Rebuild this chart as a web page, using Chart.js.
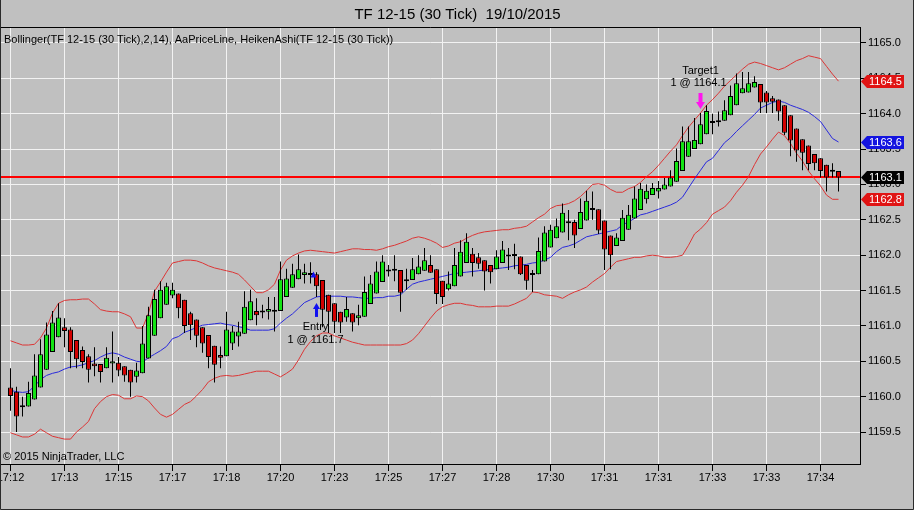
<!DOCTYPE html>
<html><head><meta charset="utf-8">
<script src="https://cdn.jsdelivr.net/npm/chart.js@4/dist/chart.umd.min.js"></script>
<style>html,body{margin:0;padding:0;background:#c0c0c0;overflow:hidden}canvas{display:block}</style>
</head><body>
<canvas id="c" width="914" height="510"></canvas>
<script>
const titleText = 'TF 12-15 (30 Tick)  19/10/2015';
const indicatorText = 'Bollinger(TF 12-15 (30 Tick),2,14), AaPriceLine, HeikenAshi(TF 12-15 (30 Tick))';
const copyrightText = '\u00A9 2015 NinjaTrader, LLC';

const opens = [1160.13,1160.07,1159.88,1159.86,1159.96,1160.13,1160.38,1160.63,1160.84,1160.98,
1160.95,1160.80,1160.66,1160.57,1160.47,1160.46,1160.40,1160.47,1160.48,1160.43,
1160.38,1160.28,1160.33,1160.54,1160.86,1161.11,1161.30,1161.43,1161.46,1161.37,
1161.18,1161.09,1160.98,1160.87,1160.72,1160.59,1160.57,1160.75,1160.85,1160.89,
1161.08,1161.21,1161.19,1161.20,1161.20,1161.21,1161.41,1161.54,1161.66,1161.72,
1161.74,1161.73,1161.65,1161.44,1161.32,1161.20,1161.12,1161.18,1161.11,1161.13,
1161.31,1161.46,1161.62,1161.77,1161.78,1161.79,1161.63,1161.65,1161.73,1161.78,
1161.86,1161.80,1161.64,1161.52,1161.56,1161.70,1161.89,1162.02,1161.97,1161.93,
1161.86,1161.80,1161.89,1161.98,1161.99,1161.98,1161.86,1161.72,1161.73,1161.91,
1162.11,1162.24,1162.32,1162.45,1162.47,1162.37,1162.49,1162.64,1162.65,1162.49,
1162.28,1162.13,1162.20,1162.36,1162.52,1162.64,1162.79,1162.85,1162.90,1162.93,
1162.97,1163.04,1163.19,1163.39,1163.50,1163.57,1163.71,1163.87,1163.88,1163.90,
1163.98,1164.12,1164.29,1164.30,1164.37,1164.42,1164.30,1164.22,1164.20,1164.12,
1163.98,1163.79,1163.64,1163.55,1163.43,1163.37,1163.28,1163.19,1163.19];

const highs = [1160.40,1160.14,1160.00,1160.21,1160.60,1160.81,1161.05,1161.21,1161.32,1161.11,
1160.98,1160.80,1160.71,1160.60,1160.70,1160.46,1160.70,1160.92,1160.56,1160.43,
1160.38,1160.48,1161.00,1161.27,1161.51,1161.63,1161.61,1161.61,1161.46,1161.37,
1161.20,1161.09,1160.98,1160.87,1160.72,1160.71,1161.20,1161.00,1161.06,1161.49,
1161.51,1161.39,1161.30,1161.41,1161.41,1161.91,1161.81,1161.88,1162.01,1161.88,
1161.90,1161.76,1161.65,1161.44,1161.32,1161.20,1161.41,1161.18,1161.30,1161.70,
1161.72,1161.91,1162.00,1161.86,1162.00,1161.79,1161.81,1161.96,1162.00,1162.10,
1162.00,1161.80,1161.64,1161.77,1162.10,1162.21,1162.31,1162.10,1162.03,1161.93,
1161.86,1162.07,1162.20,1162.10,1162.16,1161.98,1161.86,1161.79,1162.25,1162.41,
1162.43,1162.52,1162.73,1162.64,1162.50,1162.80,1162.91,1162.90,1162.65,1162.49,
1162.28,1162.31,1162.64,1162.71,1162.97,1163.02,1163.00,1163.02,1163.05,1163.09,
1163.20,1163.51,1163.82,1163.82,1163.94,1164.01,1164.12,1164.00,1164.03,1164.19,
1164.40,1164.57,1164.59,1164.59,1164.53,1164.42,1164.32,1164.25,1164.20,1164.12,
1163.98,1163.79,1163.64,1163.55,1163.43,1163.37,1163.28,1163.30,1163.19];

const lows = [1159.80,1159.50,1159.72,1159.86,1159.96,1160.13,1160.38,1160.63,1160.84,1160.70,
1160.40,1160.40,1160.40,1160.20,1160.29,1160.20,1160.40,1160.20,1160.29,1160.21,
1160.00,1160.20,1160.33,1160.54,1160.86,1161.11,1161.30,1161.39,1161.11,1160.90,
1160.80,1160.70,1160.62,1160.40,1160.20,1160.40,1160.57,1160.66,1160.71,1160.89,
1161.08,1161.01,1161.11,1161.09,1160.92,1161.21,1161.41,1161.54,1161.66,1161.60,
1161.60,1161.41,1160.98,1160.90,1160.90,1160.90,1161.06,1160.92,1161.01,1161.13,
1161.31,1161.46,1161.62,1161.70,1161.63,1161.20,1161.51,1161.65,1161.73,1161.78,
1161.75,1161.31,1161.31,1161.50,1161.56,1161.70,1161.89,1161.70,1161.81,1161.50,
1161.60,1161.80,1161.89,1161.79,1161.80,1161.72,1161.51,1161.48,1161.73,1161.91,
1162.11,1162.24,1162.32,1162.21,1162.10,1162.37,1162.49,1162.50,1162.30,1161.79,
1161.80,1162.13,1162.20,1162.36,1162.52,1162.64,1162.73,1162.85,1162.80,1162.93,
1162.97,1163.04,1163.19,1163.39,1163.50,1163.57,1163.71,1163.71,1163.82,1163.90,
1163.98,1164.12,1164.29,1164.30,1164.37,1164.01,1164.01,1164.01,1163.90,1163.70,
1163.40,1163.32,1163.20,1163.20,1163.20,1163.10,1162.90,1163.10,1162.90];

const closes = [1160.01,1159.72,1159.85,1160.05,1160.30,1160.60,1160.88,1161.05,1161.12,1160.93,
1160.63,1160.53,1160.49,1160.38,1160.43,1160.35,1160.55,1160.50,1160.37,1160.30,
1160.20,1160.37,1160.75,1161.15,1161.38,1161.51,1161.56,1161.51,1161.25,1161.00,
1161.01,1160.86,1160.75,1160.56,1160.45,1160.55,1160.95,1160.92,1160.92,1161.27,
1161.35,1161.15,1161.21,1161.24,1161.22,1161.66,1161.67,1161.73,1161.80,1161.76,
1161.72,1161.56,1161.23,1161.20,1161.06,1161.05,1161.24,1161.05,1161.15,1161.48,
1161.60,1161.77,1161.91,1161.78,1161.80,1161.47,1161.66,1161.80,1161.84,1161.93,
1161.75,1161.45,1161.41,1161.60,1161.86,1162.05,1162.19,1161.89,1161.88,1161.77,
1161.76,1161.98,1162.08,1162.00,1162.00,1161.73,1161.64,1161.74,1162.06,1162.32,
1162.36,1162.41,1162.60,1162.47,1162.28,1162.61,1162.77,1162.66,1162.35,1162.08,
1162.00,1162.25,1162.53,1162.57,1162.80,1162.94,1162.91,1162.95,1162.95,1163.00,
1163.10,1163.33,1163.61,1163.61,1163.63,1163.85,1164.04,1163.88,1163.90,1164.05,
1164.25,1164.43,1164.36,1164.43,1164.45,1164.16,1164.16,1164.17,1164.03,1163.73,
1163.62,1163.48,1163.45,1163.29,1163.30,1163.19,1163.10,1163.18,1163.10];

const bbUpper = [1160.79,1160.76,1160.73,1160.73,1160.74,1160.83,1160.97,1161.18,1161.32,1161.36,
1161.37,1161.37,1161.38,1161.38,1161.31,1161.23,1161.21,1161.20,1161.20,1161.17,
1161.13,1160.97,1160.97,1161.18,1161.49,1161.62,1161.76,1161.89,1161.91,1161.93,
1161.93,1161.92,1161.89,1161.85,1161.82,1161.80,1161.78,1161.76,1161.73,1161.65,
1161.56,1161.47,1161.47,1161.51,1161.59,1161.79,1161.93,1161.99,1162.03,1162.06,
1162.07,1162.06,1162.05,1162.04,1162.03,1162.05,1162.07,1162.09,1162.09,1162.08,
1162.08,1162.07,1162.09,1162.12,1162.14,1162.17,1162.20,1162.24,1162.26,1162.24,
1162.21,1162.17,1162.11,1162.13,1162.17,1162.19,1162.24,1162.28,1162.31,1162.33,
1162.34,1162.35,1162.36,1162.36,1162.38,1162.39,1162.41,1162.47,1162.53,1162.58,
1162.66,1162.70,1162.71,1162.73,1162.77,1162.83,1162.91,1163.00,1163.01,1162.99,
1162.93,1162.89,1162.89,1162.94,1162.97,1163.03,1163.11,1163.18,1163.27,1163.37,
1163.47,1163.56,1163.69,1163.81,1163.91,1164.01,1164.12,1164.20,1164.29,1164.39,
1164.47,1164.55,1164.63,1164.70,1164.73,1164.71,1164.68,1164.65,1164.62,1164.65,
1164.70,1164.75,1164.78,1164.82,1164.80,1164.78,1164.67,1164.56,1164.46];

const bbMiddle = [1160.09,1160.07,1160.06,1160.07,1160.15,1160.24,1160.30,1160.33,1160.35,1160.39,
1160.42,1160.43,1160.45,1160.48,1160.51,1160.56,1160.60,1160.62,1160.60,1160.56,
1160.53,1160.50,1160.49,1160.55,1160.60,1160.65,1160.71,1160.82,1160.85,1160.91,
1160.94,1160.98,1161.01,1161.02,1161.03,1161.04,1161.02,1161.01,1160.99,1160.97,
1160.94,1160.94,1160.94,1160.94,1160.96,1161.04,1161.11,1161.17,1161.25,1161.33,
1161.37,1161.41,1161.42,1161.42,1161.42,1161.42,1161.41,1161.41,1161.40,1161.39,
1161.39,1161.40,1161.40,1161.42,1161.42,1161.44,1161.52,1161.59,1161.62,1161.64,
1161.66,1161.68,1161.70,1161.72,1161.74,1161.75,1161.76,1161.77,1161.78,1161.79,
1161.80,1161.81,1161.82,1161.83,1161.85,1161.86,1161.87,1161.89,1161.90,1161.93,
1161.97,1162.05,1162.11,1162.13,1162.16,1162.21,1162.26,1162.28,1162.30,1162.32,
1162.34,1162.36,1162.43,1162.47,1162.52,1162.57,1162.59,1162.62,1162.65,1162.68,
1162.71,1162.75,1162.82,1162.95,1163.08,1163.20,1163.32,1163.37,1163.48,1163.59,
1163.66,1163.75,1163.83,1163.91,1163.99,1164.08,1164.12,1164.16,1164.18,1164.16,
1164.12,1164.09,1164.06,1164.02,1163.96,1163.89,1163.77,1163.65,1163.60];

const bbLower = [1159.49,1159.46,1159.43,1159.43,1159.47,1159.54,1159.49,1159.44,1159.42,1159.40,
1159.40,1159.50,1159.57,1159.65,1159.83,1159.93,1160.00,1160.03,1160.02,1159.97,
1159.97,1160.01,1160.00,1159.94,1159.84,1159.75,1159.71,1159.75,1159.82,1159.89,
1159.93,1160.01,1160.10,1160.21,1160.26,1160.29,1160.30,1160.29,1160.30,1160.32,
1160.34,1160.36,1160.36,1160.36,1160.32,1160.28,1160.33,1160.39,1160.52,1160.67,
1160.78,1160.86,1160.90,1160.90,1160.86,1160.83,1160.80,1160.77,1160.75,1160.73,
1160.73,1160.73,1160.73,1160.73,1160.73,1160.73,1160.75,1160.80,1160.89,1161.00,
1161.11,1161.21,1161.27,1161.30,1161.32,1161.32,1161.30,1161.29,1161.27,1161.27,
1161.27,1161.28,1161.28,1161.28,1161.31,1161.35,1161.39,1161.48,1161.47,1161.44,
1161.43,1161.42,1161.39,1161.44,1161.48,1161.51,1161.55,1161.62,1161.68,1161.74,
1161.83,1161.91,1161.93,1161.95,1161.97,1161.97,1161.99,1162.00,1161.99,1161.97,
1161.97,1161.98,1162.00,1162.14,1162.30,1162.37,1162.46,1162.58,1162.63,1162.68,
1162.77,1162.89,1162.99,1163.11,1163.28,1163.43,1163.53,1163.64,1163.74,1163.69,
1163.58,1163.44,1163.33,1163.19,1163.08,1162.98,1162.85,1162.79,1162.79];

const timeTickIndex = [0,9,18,27,36,45,54,63,72,81,90,99,108,117,126,135];
const timeLabels = ['17:12','17:13','17:15','17:17','17:18','17:20','17:23','17:25','17:27','17:28','17:30','17:31','17:31','17:33','17:33','17:34'];
const priceTicks = [1159.5,1160.0,1160.5,1161.0,1161.5,1162.0,1162.5,1163.0,1163.5,1164.0,1164.5,1165.0];

const entryIndex = 51, entryPrice = 1161.7, entryName = 'Entry';
const targetIndex = 115, targetPrice = 1164.1, targetName = 'Target1';

const GREEN = '#14e314', RED = '#d20000', BAND_RED = '#dc3535', BAND_BLUE = '#2828dc';
const FONT = '"Liberation Sans", Arial, Helvetica, sans-serif';
const last = closes.length - 1;

const idx = opens.map((_, i) => i);
const fmt = v => (Math.round(v * 10) / 10).toFixed(1);

const decor = {
  id: 'decor',
  beforeDatasetsDraw(chart) {
    const {ctx, chartArea: a, scales: {y}} = chart;
    const py = Math.round(y.getPixelForValue(closes[last]));
    ctx.save();
    ctx.fillStyle = '#ff0000';
    ctx.fillRect(a.left, py - 1, a.right - a.left, 2);
    ctx.restore();
  },
  afterDraw(chart) {
    const {ctx, chartArea: a, scales: {x, y}} = chart;
    ctx.save();
    // plot frame
    ctx.strokeStyle = '#000'; ctx.lineWidth = 1;
    ctx.beginPath();
    ctx.moveTo(0, a.top + 0.5); ctx.lineTo(a.right + 0.5, a.top + 0.5);
    ctx.lineTo(a.right + 0.5, a.bottom + 0.5); ctx.lineTo(0, a.bottom + 0.5);
    ctx.stroke();
    // window border
    ctx.strokeStyle = '#2a2a2a';
    ctx.beginPath(); ctx.moveTo(0.5, 0); ctx.lineTo(0.5, 509.5); ctx.lineTo(913.5, 509.5); ctx.lineTo(913.5, 0); ctx.stroke();
    // texts
    ctx.fillStyle = '#000'; ctx.font = '11px ' + FONT; ctx.textBaseline = 'middle'; ctx.textAlign = 'left';
    ctx.fillText(indicatorText, 4, a.top + 13);
    ctx.fillText(copyrightText, 3, a.bottom - 7);

    // entry marker
    const ex = x.getPixelForValue(entryIndex);
    const eTop = y.getPixelForValue(lows[entryIndex]) + 6;
    ctx.fillStyle = '#1010f0';
    ctx.beginPath(); ctx.moveTo(ex, eTop); ctx.lineTo(ex - 3.5, eTop + 6); ctx.lineTo(ex + 3.5, eTop + 6); ctx.closePath(); ctx.fill();
    ctx.fillRect(ex - 1.5, eTop + 5, 3, 9);
    const epy = y.getPixelForValue(entryPrice);
    ctx.beginPath(); ctx.moveTo(ex - 3, epy - 5); ctx.lineTo(ex - 6, epy + 1); ctx.lineTo(ex, epy + 1); ctx.closePath(); ctx.fill();
    ctx.fillStyle = '#000'; ctx.textAlign = 'center';
    ctx.fillText(entryName, ex - 1, eTop + 24);
    ctx.fillText('1 @ ' + entryPrice.toFixed(1), ex - 1, eTop + 37);

    // target marker
    const tx = x.getPixelForValue(targetIndex);
    const tTip = y.getPixelForValue(highs[targetIndex]) - 4;
    ctx.fillStyle = '#ff14ee';
    ctx.beginPath(); ctx.moveTo(tx, tTip); ctx.lineTo(tx - 4.5, tTip - 7); ctx.lineTo(tx + 4.5, tTip - 7); ctx.closePath(); ctx.fill();
    ctx.fillRect(tx - 2, tTip - 16, 4, 10);
    ctx.fillStyle = '#000';
    ctx.fillText('1 @ ' + targetPrice.toFixed(1), tx - 2, tTip - 26);
    ctx.fillText(targetName, tx, tTip - 38);

    // right side value tags
    const tags = [
      {v: bbUpper[last], c: '#e01414'},
      {v: bbMiddle[last], c: '#1414e0'},
      {v: closes[last], c: '#000000'},
      {v: bbLower[last], c: '#e01414'}
    ];
    ctx.textAlign = 'left';
    tags.forEach(t => {
      const ty = Math.round(y.getPixelForValue(t.v)) + 0.5;
      ctx.fillStyle = t.c;
      ctx.beginPath();
      ctx.moveTo(861, ty); ctx.lineTo(867, ty - 6.5); ctx.lineTo(904, ty - 6.5);
      ctx.lineTo(904, ty + 6.5); ctx.lineTo(867, ty + 6.5); ctx.closePath(); ctx.fill();
      ctx.fillStyle = '#fff';
      ctx.fillText(fmt(t.v), 869, ty + 0.5);
    });
    ctx.restore();
  }
};

const lineDs = (data, color) => ({
  type: 'line',
  data: data.map((v, i) => ({x: i, y: v})),
  borderColor: color, borderWidth: 1, pointRadius: 0, tension: 0, fill: false, order: 5
});

new Chart(document.getElementById('c'), {
  type: 'bar',
  data: {
    datasets: [
      lineDs(bbUpper, BAND_RED),
      lineDs(bbLower, BAND_RED),
      lineDs(bbMiddle, BAND_BLUE),
      {
        type: 'bar',
        data: idx.map(i => ({x: i, y: [lows[i], highs[i]]})),
        backgroundColor: '#000', borderWidth: 0, barThickness: 1, grouped: false,
        inflateAmount: 0, order: 2
      },
      {
        type: 'bar',
        data: idx.map(i => ({x: i, y: [opens[i], closes[i]]})),
        backgroundColor: idx.map(i => closes[i] >= opens[i] ? GREEN : RED),
        borderColor: '#000', borderWidth: 1, borderSkipped: false, barThickness: 5,
        grouped: false, minBarLength: 2, inflateAmount: 0, order: 1
      }
    ]
  },
  options: {
    responsive: false, animation: false, devicePixelRatio: 1,
    layout: {padding: {left: 1, right: 0, top: 0, bottom: 0}},
    font: {family: FONT},
    plugins: {
      legend: {display: false}, tooltip: {enabled: false},
      title: {display: true, text: titleText, color: '#000',
        font: {size: 15, weight: 'normal', family: FONT, lineHeight: 1.2}, padding: {top: 6, bottom: 3}}
    },
    scales: {
      x: {
        type: 'linear', min: -1.5833, max: 141.5833, offset: false, bounds: 'data',
        afterBuildTicks(s) { s.ticks = timeTickIndex.map(v => ({value: v})); },
        afterFit(s) { s.height = 46; s.paddingLeft = 0; s.paddingRight = 0; },
        ticks: {autoSkip: false, maxRotation: 0, minRotation: 0, padding: 0, color: '#000',
          font: {size: 11, family: FONT}, callback: (v, i) => timeLabels[i]},
        grid: {offset: false, color: '#f2f2f2', tickColor: '#000', tickLength: 7},
        border: {display: true, color: '#000'}
      },
      y: {
        position: 'right', min: 1159.048, max: 1165.226, bounds: 'data',
        afterBuildTicks(s) { s.ticks = priceTicks.map(v => ({value: v})); },
        afterFit(s) { s.width = 54; s.paddingTop = 0; s.paddingBottom = 0; },
        ticks: {autoSkip: false, padding: 2,
          color: '#000', font: {size: 11, family: FONT}, callback: (v, i) => priceTicks[i].toFixed(1)},
        grid: {color: '#f2f2f2', tickColor: '#000', tickLength: 6},
        border: {display: true, color: '#000'}
      }
    }
  },
  plugins: [decor]
});
</script>
</body></html>
